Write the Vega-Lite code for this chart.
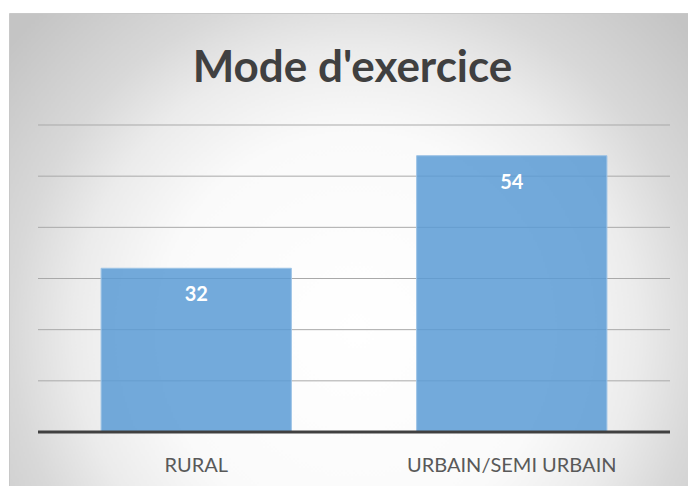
{
  "$schema": "https://vega.github.io/schema/vega-lite/v6.json",
  "width": 679,
  "height": 473,
  "autosize": {"type": "none"},
  "padding": {"left": 9, "top": 13, "right": 0, "bottom": 0},
  "background": "white",
  "config": {
    "font": "Lato",
    "view": {
      "fill": {
        "gradient": "radial",
        "x1": 0.51, "y1": 0.62, "r1": 0,
        "x2": 0.51, "y2": 0.62, "r2": 0.66,
        "stops": [
          {"offset": 0, "color": "#ffffff"},
          {"offset": 0.44, "color": "#fafafa"},
          {"offset": 0.63, "color": "#ebebeb"},
          {"offset": 0.77, "color": "#d8d8d8"},
          {"offset": 1, "color": "#c4c4c4"}
        ]
      },
      "stroke": "#c8c8c8",
      "strokeWidth": 1
    }
  },
  "title": {
    "text": "Mode d'exercice",
    "font": "Lato",
    "fontSize": 44,
    "fontWeight": "bold",
    "color": "#404040",
    "anchor": "middle",
    "baseline": "alphabetic",
    "offset": -70,
    "dx": 4,
    "dy": 43
  },
  "layer": [
    {
      "data": {"values": [{"v": 10}, {"v": 20}, {"v": 30}, {"v": 40}, {"v": 50}, {"v": 60}]},
      "mark": {"type": "rule", "color": "#a9a9a9", "strokeWidth": 1},
      "encoding": {
        "y": {"field": "v", "type": "quantitative", "scale": {"domain": [0, 60], "range": [419, 112], "nice": false, "zero": true}, "axis": null},
        "x": {"datum": 0, "type": "quantitative", "scale": {"domain": [0, 1], "range": [29, 661]}, "axis": null},
        "x2": {"datum": 1}
      }
    },
    {
      "data": {"values": [{"mode": "RURAL", "n": 32}, {"mode": "URBAIN/SEMI URBAIN", "n": 54}]},
      "encoding": {
        "x": {
          "field": "mode", "type": "nominal", "sort": null,
          "scale": {"range": [29, 661], "paddingInner": 0.397, "paddingOuter": 0.2},
          "axis": {
            "title": null, "domain": false, "ticks": false, "labelAngle": 0,
            "labelFont": "Lato", "labelFontSize": 20, "labelColor": "#595959",
            "labelPadding": 0, "offset": -31, "grid": false, "labelLimit": 400
          }
        },
        "y": {"field": "n", "type": "quantitative", "scale": {"domain": [0, 60], "range": [419, 112], "nice": false, "zero": true}, "axis": null}
      },
      "layer": [
        {"mark": {"type": "bar", "fill": "#5b9bd5", "fillOpacity": 0.85, "stroke": "#9dc3e6", "strokeWidth": 1}},
        {"mark": {"type": "text", "color": "white", "fontWeight": "bold", "fontSize": 20, "font": "Lato", "baseline": "middle", "dy": 27}, "encoding": {"text": {"field": "n", "type": "quantitative"}}}
      ]
    },
    {
      "data": {"values": [{"v": 0}]},
      "mark": {"type": "rule", "color": "#404040", "strokeWidth": 3},
      "encoding": {
        "y": {"field": "v", "type": "quantitative", "scale": {"domain": [0, 60], "range": [419, 112], "nice": false, "zero": true}, "axis": null},
        "x": {"datum": 0, "type": "quantitative", "scale": {"domain": [0, 1], "range": [29, 661]}, "axis": null},
        "x2": {"datum": 1}
      }
    }
  ],
  "resolve": {"scale": {"x": "independent"}}
}
